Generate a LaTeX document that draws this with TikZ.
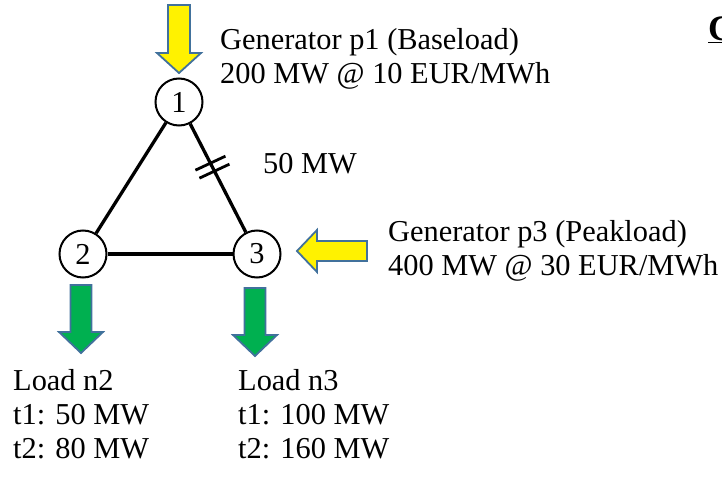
\documentclass[tikz,border=0pt]{standalone}
\usepackage{fontspec}
\setmainfont{Liberation Serif}
\definecolor{arrowedge}{RGB}{65,113,156}
\definecolor{loadgreen}{RGB}{0,176,80}
\begin{document}
\begin{tikzpicture}[x=1bp, y=-1bp,
    every node/.style={font=\fontsize{30.5}{34}\selectfont, inner sep=0pt},
    bus/.style={circle, draw, line width=2bp, minimum size=47bp},
    busline/.style={line width=3.3bp},
    genarrow/.style={draw=arrowedge, line width=1.8bp, fill=yellow},
    loadarrow/.style={draw=arrowedge, line width=1.8bp, fill=loadgreen}]
    \useasboundingbox (0,0) rectangle (722,487);
    \clip (0,0) rectangle (722,487);
    \node[bus] (n1) at (179,102) {1};
    \node[bus] (n2) at (83,254) {2};
    \node[bus] (n3) at (257,254) {3};
    \draw[busline] (n1) -- (n2);
    \draw[busline] (n2) -- (n3);
    \draw[busline] (n1) -- coordinate[pos=0.4] (cut) (n3);
    \foreach \s in {-1,1}{
        \draw[line width=2.8bp] ([shift={(2*\s-15,4*\s+7)}]cut) -- ([shift={(2*\s+15,4*\s-7)}]cut);
    }
    \draw[genarrow] (179,5) ++(-11,0) -- ++(22,0) -- ++(0,48) -- ++(11,0) -- ++(-22,20) -- ++(-22,-20) -- ++(11,0) -- cycle;
    \draw[genarrow] (367,241) -- (317,241) -- (317,230) -- (297,251) -- (317,272) -- (317,261) -- (367,261) -- cycle;
    \foreach \cx/\t in {81/285, 255/288}{
        \draw[loadarrow] (\cx,\t) ++(-10.5,0) -- ++(21,0) -- ++(0,47) -- ++(11.5,0) -- ++(-22,21) -- ++(-22,-21) -- ++(11.5,0) -- cycle;
    }
    \node[anchor=west, align=left] (gen1) at (220,59) {Generator p1 (Baseload)\\200 MW @ 10 EUR/MWh};
    \node[anchor=west] (flow) at (263,164) {50 MW};
    \node[anchor=west, align=left] (gen3) at (388,251) {Generator p3 (Peakload)\\400 MW @ 30 EUR/MWh};
    \node[anchor=west, align=left] (load2) at (13,414) {Load n2\\t1: 50 MW\\t2: 80 MW};
    \node[anchor=west, align=left] (load3) at (238,414) {Load n3\\t1: 100 MW\\t2: 160 MW};
    \node[anchor=west, font=\fontsize{36}{40}\selectfont] (title) at (708,30) {\textbf{\underline{C}}};
\end{tikzpicture}
\end{document}
